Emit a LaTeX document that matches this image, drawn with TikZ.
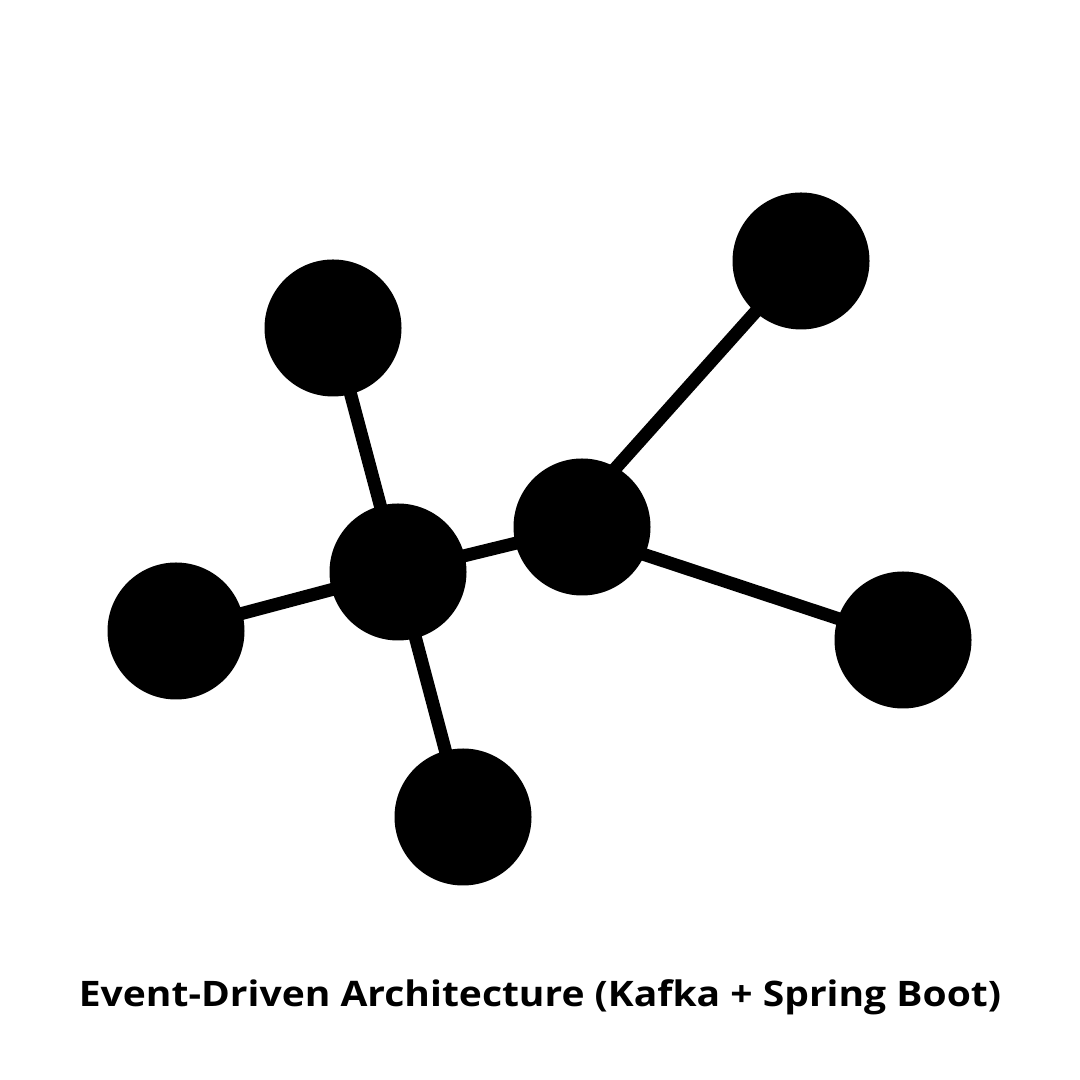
\documentclass[tikz,border=0pt]{standalone}
\usepackage{fontspec}
\setmainfont[FakeStretch=1.11]{Open Sans}
\usepackage{xcolor}
\usetikzlibrary{backgrounds}

\begin{document}
\begin{tikzpicture}[ball/.style={circle,fill=black,minimum size=1.37cm,inner sep=0pt},
        bond/.style={line width=3.7pt}]
        \useasboundingbox (0,0) rectangle (10.8,10.8);
        \node[ball](hubl) at (3.98,5.08) {};
        \node[ball](hubr) at (5.82,5.53) {};
        \node[ball](top) at (3.33,7.52) {};
        \node[ball](far) at (8.01,8.19) {};
        \node[ball](left) at (1.76,4.49) {};
        \node[ball](right) at (9.03,4.40) {};
        \node[ball](low) at (4.63,2.63) {};
        \begin{scope}[on background layer]
        \draw[bond](hubl.center)--(top.center);
        \draw[bond](hubl.center)--(left.center);
        \draw[bond](hubl.center)--(low.center);
        \draw[bond](hubl.center)--(hubr.center);
        \draw[bond]([xshift=-0.19cm]hubr.center)--(far.center);
        \draw[bond]([yshift=-0.07cm]hubr.center)--(right.center);
        \end{scope}
        \node(title) at (5.40,0.83) {\bfseries\fontsize{10}{12}\selectfont Event-Driven Architecture (Kafka + Spring Boot)};
        \end{tikzpicture}
\end{document}
